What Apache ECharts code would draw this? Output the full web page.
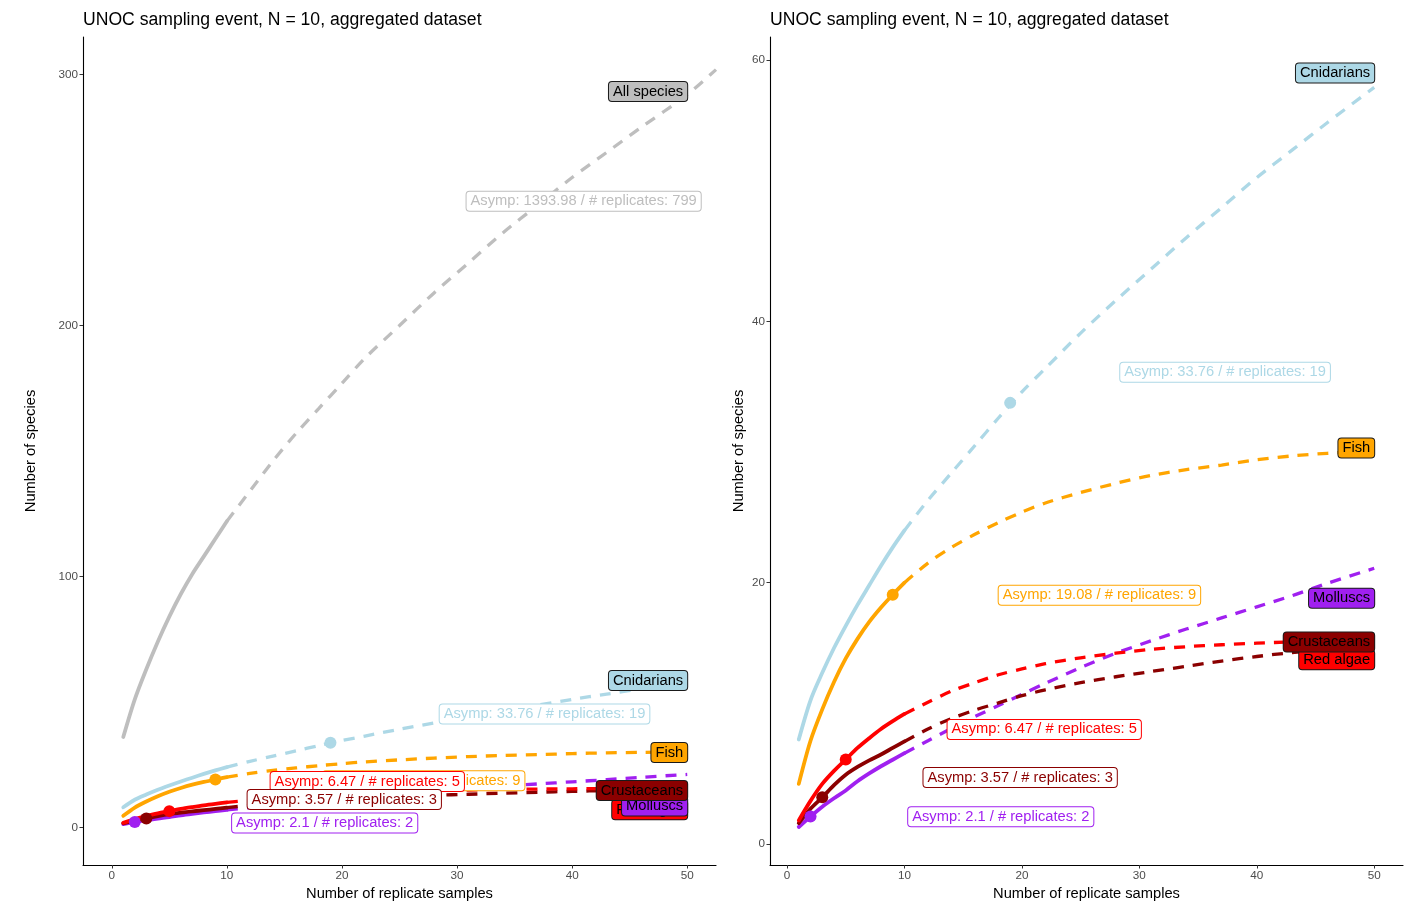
<!DOCTYPE html>
<html><head><meta charset="utf-8">
<script src="https://cdn.jsdelivr.net/npm/echarts@6/dist/echarts.min.js"></script>
<style>html,body{margin:0;padding:0;background:#fff}#chart{width:1408px;height:901px}</style>
</head><body><div id="chart"></div>
<script>
// ---------- data ----------
const titleText = 'UNOC sampling event, N = 10, aggregated dataset';
const groups = ['All species', 'Cnidarians', 'Fish', 'Molluscs', 'Crustaceans', 'Red algae'];
const xObserved = [1, 2, 3, 4, 5, 6, 7, 8, 9, 10];
const xExtrap = [10, 12, 14, 16, 18, 20, 22, 25, 28, 31, 34, 37, 40, 43, 46, 50];
const xExtrapAll = [10, 12, 14, 16, 18, 20, 22, 25, 28, 31, 34, 37, 40, 43, 46, 50, 52.5];

const obsAll  = [36, 51, 63, 74, 84, 93, 101, 108, 115, 122];
const extAll  = [122, 134, 146, 157, 167, 177, 187, 200, 213, 225, 237, 248, 259, 269, 279, 292, 302];
const obsCnid = [8.0, 11.0, 13.1, 15.0, 16.7, 18.3, 19.8, 21.3, 22.7, 24.0];
const extCnid = [24.0, 26.3, 28.4, 30.5, 32.6, 34.6, 36.4, 39.1, 41.6, 44.0, 46.4, 48.7, 51.0, 53.1, 55.2, 57.9];
const obsFish = [4.6, 7.9, 10.3, 12.4, 14.2, 15.7, 17.0, 18.1, 19.08, 20.0];
const extFish = [20.0, 21.5, 22.7, 23.7, 24.6, 25.4, 26.1, 26.9, 27.6, 28.2, 28.65, 29.0, 29.4, 29.7, 29.9, 30.1];
const obsMoll = [1.3, 2.1, 2.85, 3.5, 4.1, 4.8, 5.4, 5.95, 6.45, 6.95];
const extMoll = [6.95, 7.9, 8.85, 9.75, 10.6, 11.45, 12.3, 13.5, 14.6, 15.55, 16.45, 17.3, 18.15, 19.0, 19.95, 21.1];
const obsCrus = [1.6, 2.7, 3.57, 4.5, 5.3, 5.9, 6.4, 6.85, 7.35, 7.85];
const extCrus = [7.85, 8.8, 9.6, 10.25, 10.8, 11.35, 11.8, 12.35, 12.8, 13.2, 13.6, 14.0, 14.35, 14.65, 14.9, 15.2];
const obsRed  = [1.8, 3.3, 4.6, 5.6, 6.47, 7.35, 8.1, 8.8, 9.4, 9.95];
const extRed  = [9.95, 10.85, 11.7, 12.35, 12.95, 13.4, 13.8, 14.25, 14.6, 14.9, 15.1, 15.25, 15.37, 15.47, 15.55, 15.65];

const asympValues = [1393.98, 33.76, 19.08, 2.1, 3.57, 6.47];
const asympReplicates = [799, 19, 9, 2, 3, 5];

const xTicks = [0, 10, 20, 30, 40, 50];
const yTicksLeft = [0, 100, 200, 300];
const yTicksRight = [0, 20, 40, 60];

// ---------- styles / layout ----------
const colors = ['#bebebe', '#add8e6', '#ffa500', '#a020f0', '#8b0000', '#ff0000'];
const observed = [obsAll, obsCnid, obsFish, obsMoll, obsCrus, obsRed];
const extrapolated = [extAll, extCnid, extFish, extMoll, extCrus, extRed];
const font = "'Liberation Sans', Arial, Helvetica, sans-serif";

// label anchors (data space) per panel
const groupLabelY = [
  {'All species': 293.3, 'Cnidarians': 58.5, 'Fish': 29.8, 'Red algae': 7.0, 'Molluscs': 8.55, 'Crustaceans': 14.7},
  {'Cnidarians': 59.0, 'Fish': 30.3, 'Molluscs': 18.8, 'Red algae': 14.1, 'Crustaceans': 15.45}
];
const groupLabelOrder = ['All species', 'Cnidarians', 'Fish', 'Red algae', 'Molluscs', 'Crustaceans'];
const asympLabelPos = [
  {'All species': [41.0, 249.5], 'Cnidarians': [37.6, 45.2], 'Fish': [27.1, 18.6], 'Red algae': [22.2, 18.3], 'Crustaceans': [20.2, 11.1], 'Molluscs': [18.5, 1.7]},
  {'Cnidarians': [37.3, 36.1], 'Fish': [26.6, 19.03], 'Red algae': [21.9, 8.77], 'Crustaceans': [19.85, 5.09], 'Molluscs': [18.2, 2.09]}
];
const asympLabelOrder = ['All species', 'Cnidarians', 'Fish', 'Red algae', 'Crustaceans', 'Molluscs'];

const panels = [
  {groups: groups, xMin: -2.5, xMax: 52.5, yMin: -15, yMax: 315, yTicks: yTicksLeft, left: 83, nameGap: 45},
  {groups: groups.slice(1), xMin: -1.45, xMax: 52.45, yMin: -1.607, yMax: 61.76, yTicks: yTicksRight, left: 770, nameGap: 24}
];

const grids = [], xAxes = [], yAxes = [], titles = [], series = [];

panels.forEach((p, pi) => {
  grids.push({left: p.left, top: 37, width: 633, height: 828, containLabel: false, outerBoundsMode: 'none'});
  titles.push({text: titleText, left: p.left, top: 11, padding: 0,
    textStyle: {fontFamily: font, fontSize: 17.6, fontWeight: 'normal', color: '#000'}});
  xAxes.push({
    type: 'value', gridIndex: pi, min: p.xMin, max: p.xMax,
    splitLine: {show: false},
    axisLine: {onZero: false, lineStyle: {color: '#000', width: 1.1}},
    axisTick: {customValues: xTicks, length: 3.5, lineStyle: {color: '#333', width: 1}},
    axisLabel: {customValues: xTicks, color: '#4d4d4d', fontSize: 11.7, fontFamily: font, margin: 5},
    name: 'Number of replicate samples', nameLocation: 'middle', nameGap: 20,
    nameTextStyle: {color: '#000', fontSize: 14.7, fontFamily: font}
  });
  yAxes.push({
    type: 'value', gridIndex: pi, min: p.yMin, max: p.yMax,
    splitLine: {show: false},
    axisLine: {show: true, onZero: false, lineStyle: {color: '#000', width: 1.1}},
    axisTick: {show: true, customValues: p.yTicks, length: 3.5, lineStyle: {color: '#333', width: 1}},
    axisLabel: {customValues: p.yTicks, color: '#4d4d4d', fontSize: 11.7, fontFamily: font, margin: 5},
    name: 'Number of species', nameLocation: 'middle', nameGap: p.nameGap,
    nameTextStyle: {color: '#000', fontSize: 14.7, fontFamily: font}
  });

  // lines
  p.groups.forEach((g) => {
    const gi = groups.indexOf(g);
    const xs = gi === 0 ? xExtrapAll : xExtrap;
    series.push({
      type: 'line', xAxisIndex: pi, yAxisIndex: pi, z: 2, smooth: 0.3, showSymbol: false, silent: true,
      clip: true,
      data: xObserved.map((x, i) => [x, observed[gi][i]]),
      lineStyle: {color: colors[gi], width: 3.8, cap: 'round', join: 'round'}
    });
    series.push({
      type: 'line', xAxisIndex: pi, yAxisIndex: pi, z: 2, smooth: 0.3, showSymbol: false, silent: true,
      clip: true,
      data: xs.map((x, i) => [x, extrapolated[gi][i]]),
      lineStyle: {color: colors[gi], width: 3.3, type: [11, 9], cap: 'butt'}
    });
  });

  // asymptote points
  const pts = [];
  p.groups.forEach((g) => {
    const gi = groups.indexOf(g);
    if (asympReplicates[gi] <= 50) pts.push({value: [asympReplicates[gi], asympValues[gi]], itemStyle: {color: colors[gi], opacity: 1}});
  });
  series.push({type: 'scatter', xAxisIndex: pi, yAxisIndex: pi, z: 4, symbolSize: 12, silent: true,
    itemStyle: {opacity: 1}, data: pts});

  // asymptote labels
  const aLabels = [];
  asympLabelOrder.forEach((g) => {
    if (p.groups.indexOf(g) < 0) return;
    const gi = groups.indexOf(g);
    aLabels.push({
      value: asympLabelPos[pi][g],
      name: 'Asymp: ' + asympValues[gi] + ' / # replicates: ' + asympReplicates[gi],
      label: {color: colors[gi], borderColor: colors[gi]}
    });
  });
  series.push({
    type: 'scatter', xAxisIndex: pi, yAxisIndex: pi, z: 8, symbolSize: 0.1, silent: true,
    itemStyle: {color: 'rgba(0,0,0,0)', opacity: 1},
    label: {show: true, position: 'inside', formatter: '{b}', fontFamily: font, fontSize: 14.7, opacity: 1,
      lineHeight: 16, backgroundColor: '#fff', borderWidth: 1, borderRadius: 3, padding: [2, 4, 1, 4]},
    data: aLabels
  });

  // group labels
  const gLabels = [];
  groupLabelOrder.forEach((g) => {
    if (p.groups.indexOf(g) < 0) return;
    const gi = groups.indexOf(g);
    gLabels.push({value: [50, groupLabelY[pi][g]], name: g, label: {backgroundColor: colors[gi]}});
  });
  series.push({
    type: 'scatter', xAxisIndex: pi, yAxisIndex: pi, z: 9, symbolSize: 0.1, silent: true,
    itemStyle: {color: 'rgba(0,0,0,0)', opacity: 1},
    label: {show: true, position: 'left', distance: 0, formatter: '{b}', fontFamily: font, fontSize: 14.7, opacity: 1,
      lineHeight: 16, color: '#000', borderColor: '#1a1a1a', borderWidth: 1, borderRadius: 3, padding: [2, 4, 1, 4]},
    data: gLabels
  });
});

const chart = echarts.init(document.getElementById('chart'), null, {renderer: 'canvas'});
chart.setOption({
  animation: false,
  backgroundColor: '#fff',
  title: titles,
  grid: grids,
  xAxis: xAxes,
  yAxis: yAxes,
  series: series
});
</script>
</body></html>
